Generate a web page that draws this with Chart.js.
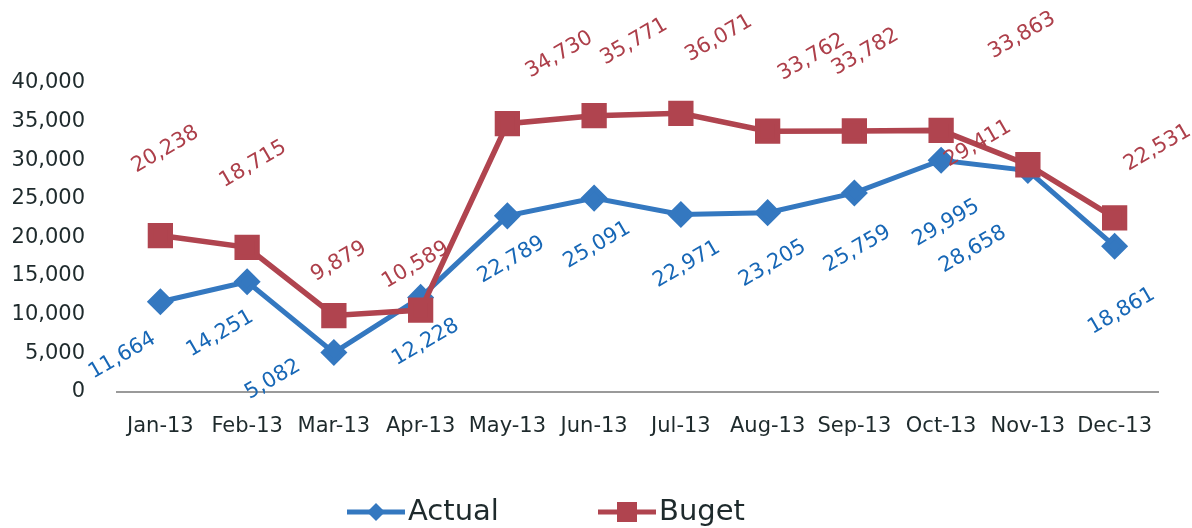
<!DOCTYPE html>
<html>
<head>
<meta charset="utf-8">
<script src="https://cdn.jsdelivr.net/npm/chart.js@4.4.1/dist/chart.umd.min.js"></script>
<style>
  html, body { margin: 0; padding: 0; background: #fff; }
  #wrap { width: 1192px; height: 528px; }
</style>
</head>
<body>
<div id="wrap"><canvas id="budget-chart"></canvas></div>
<script>
const months = ['Jan-13', 'Feb-13', 'Mar-13', 'Apr-13', 'May-13', 'Jun-13', 'Jul-13', 'Aug-13', 'Sep-13', 'Oct-13', 'Nov-13', 'Dec-13'];
const actual = [11664, 14251, 5082, 12228, 22789, 25091, 22971, 23205, 25759, 29995, 28658, 18861];
const budget = [20238, 18715, 9879, 10589, 34730, 35771, 36071, 33762, 33782, 33863, 29411, 22531];

// label offsets from each point (px), the labels in the original sit quite irregularly
const actualLabelOffsets = [[-38, 54], [-27, 52], [-61, 27], [5, 45], [4, 44], [3, 47], [6, 50], [5, 51], [3, 56], [5, 63], [-55, 79], [7, 65]];
const budgetLabelOffsets = [[5, -86], [6, -83], [5, -54], [-5, -45], [52, -69], [40, -74], [38, -75], [44, -74], [11, -79], [81, -95], [-50, -21], [43, -70]];

const BLUE = '#3478c0';
const BLUE_TEXT = '#1767b6';
const RED = '#b0444f';
const RED_TEXT = '#ad3f4a';
const FONT = '"DejaVu Sans", Verdana, sans-serif';

const rotatedLabels = {
  id: 'rotatedLabels',
  afterDatasetsDraw(chart) {
    const ctx = chart.ctx;
    chart.data.datasets.forEach((ds, i) => {
      const meta = chart.getDatasetMeta(i);
      meta.data.forEach((pt, j) => {
        const off = ds.labelOffsets[j];
        ctx.save();
        ctx.translate(pt.x + off[0], pt.y + off[1]);
        ctx.rotate(-30 * Math.PI / 180);
        ctx.font = '21px ' + FONT;
        ctx.fillStyle = ds.labelColor;
        ctx.textAlign = 'center';
        ctx.textBaseline = 'middle';
        ctx.fillText(ds.data[j].toLocaleString('en-US'), 0, 0);
        ctx.restore();
      });
    });
  }
};

// legend drawn under the plot: line with marker, then name
const lineLegend = {
  id: 'lineLegend',
  afterDraw(chart) {
    const ctx = chart.ctx;
    const y = 512;
    const starts = [347, 598];
    chart.data.datasets.forEach((ds, i) => {
      const x = starts[i];
      ctx.save();
      ctx.strokeStyle = ds.borderColor;
      ctx.lineWidth = 5;
      ctx.beginPath();
      ctx.moveTo(x, y);
      ctx.lineTo(x + 58, y);
      ctx.stroke();
      ctx.fillStyle = ds.pointBackgroundColor;
      ctx.beginPath();
      if (ds.pointStyle === 'rect') {
        ctx.rect(x + 19, y - 10, 20, 20);
      } else {
        ctx.moveTo(x + 29, y - 9);
        ctx.lineTo(x + 38, y);
        ctx.lineTo(x + 29, y + 9);
        ctx.lineTo(x + 20, y);
        ctx.closePath();
      }
      ctx.fill();
      ctx.font = '29px ' + FONT;
      ctx.fillStyle = '#1e2a2c';
      ctx.textAlign = 'left';
      ctx.textBaseline = 'middle';
      ctx.fillText(ds.label, x + 61, y);
      ctx.restore();
    });
  }
};

const ctx = document.getElementById('budget-chart').getContext('2d');
const budgetChart = new Chart(ctx, {
  type: 'line',
  data: {
    labels: months,
    datasets: [{
        label: 'Actual',
        data: actual,
        borderColor: BLUE,
        backgroundColor: BLUE,
        pointBackgroundColor: BLUE,
        pointBorderColor: BLUE,
        pointStyle: 'rectRot',
        pointRadius: 10,
        borderWidth: 5,
        tension: 0,
        order: 1,
        labelColor: BLUE_TEXT,
        labelOffsets: actualLabelOffsets
    }, {
        label: 'Buget',
        data: budget,
        borderColor: RED,
        backgroundColor: RED,
        pointBackgroundColor: RED,
        pointBorderColor: RED,
        pointStyle: 'rect',
        pointRadius: 14,
        borderWidth: 5.5,
        tension: 0,
        order: 0,
        labelColor: RED_TEXT,
        labelOffsets: budgetLabelOffsets
    }]
  },
  options: {
    responsive: true,
    maintainAspectRatio: false,
    animation: false,
    layout: {
      padding: { top: 83, left: 10, right: 34, bottom: 86 }
    },
    scales: {
      x: {
        offset: true,
        grid: {
          display: true,
          drawOnChartArea: false,
          drawTicks: true,
          tickLength: 19,
          tickColor: 'rgba(0,0,0,0)'
        },
        border: { display: true, color: '#9a9a9a', width: 2 },
        ticks: {
          color: '#1e2a2c',
          font: { family: FONT, size: 21 },
          padding: 3,
          maxRotation: 0,
          autoSkip: false
        }
      },
      y: {
        min: 0,
        max: 40000,
        grid: { display: false },
        border: { display: false },
        afterFit: (axis) => { axis.width = 107; },
        ticks: {
          stepSize: 5000,
          color: '#1e2a2c',
          font: { family: FONT, size: 21 },
          padding: 24,
          callback: (v) => v.toLocaleString('en-US')
        }
      }
    },
    plugins: {
      legend: { display: false },
      tooltip: { enabled: false }
    }
  },
  plugins: [rotatedLabels, lineLegend]
});
</script>
</body>
</html>
